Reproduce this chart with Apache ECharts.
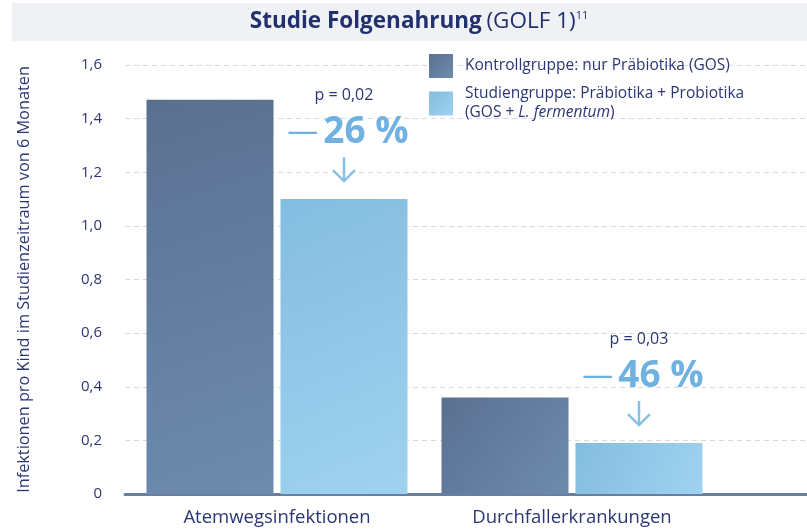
<!DOCTYPE html>
<html><head><meta charset="utf-8">
<script src="https://cdn.jsdelivr.net/npm/echarts@6/dist/echarts.min.js"></script>
<style>html,body{margin:0;padding:0;background:#fff}#c{width:807px;height:529px}</style>
</head><body><div id="c"></div>
<script>
const categories = ['Atemwegsinfektionen', 'Durchfallerkrankungen'];
const seriesNames = ['Kontrollgruppe: nur Präbiotika (GOS)', 'Studiengruppe: Präbiotika + Probiotika (GOS + L. fermentum)'];
const kontrolle = [1.47, 0.36];
const studie = [1.10, 0.19];
const pValues = ['p = 0,02', 'p = 0,03'];
const reductions = ['26 %', '46 %'];
const yTicks = [0, 0.2, 0.4, 0.6, 0.8, 1.0, 1.2, 1.4, 1.6];

const FONT = 'Open Sans';
const NAVY = '#2b3674';
const LIGHTBLUE = '#6fb1e0';

const chart = echarts.init(document.getElementById('c'), null, {renderer: 'canvas'});
const darkGrad = new echarts.graphic.LinearGradient(0, 0, 1, 1, [{offset: 0, color: '#5a7091'}, {offset: 1, color: '#6d8bae'}]);
const lightGrad = new echarts.graphic.LinearGradient(0, 0, 1, 1, [{offset: 0, color: '#84bde0'}, {offset: 1, color: '#9fd2f0'}]);

const option = {
  animation: false,
  textStyle: {fontFamily: FONT},
  title: {
    text: '{b|Studie Folgenahrung} {r|(GOLF 1)}{s|11}',
    left: 414, top: 5, textAlign: 'center',
    textStyle: {
      fontWeight: 'normal',
      rich: {
        b: {fontFamily: FONT, fontSize: 22.5, fontWeight: 'bold', color: '#22306e'},
        r: {fontFamily: FONT, fontSize: 22.5, fontWeight: 'normal', color: '#22306e'},
        s: {fontFamily: FONT, fontSize: 11, fontWeight: 'normal', color: '#22306e', verticalAlign: 'top', padding: [0, 0, 12, 0]}
      }
    }
  },
  legend: {
    orient: 'vertical', left: 424, top: 49, itemWidth: 24, itemHeight: 24, itemGap: 8,
    icon: 'rect',
    data: seriesNames,
    formatter: function (n) {
      if (n === seriesNames[0]) return '{t|Kontrollgruppe: nur Präbiotika (GOS)}';
      return '{t|Studiengruppe: Präbiotika + Probiotika}\n{t|(GOS + }{i|L. fermentum}{t|)}';
    },
    textStyle: {
      padding: [0, 0, 0, 7],
      rich: {
        t: {fontFamily: FONT, fontSize: 15.5, color: NAVY, lineHeight: 19},
        i: {fontFamily: FONT, fontSize: 15.5, color: NAVY, fontStyle: 'italic', lineHeight: 19}
      }
    }
  },
  grid: [
    {left: 125, right: 0, top: 65, bottom: 35},
    {left: 129.5, width: 590, top: 65, bottom: 35}
  ],
  xAxis: [
    {gridIndex: 0, type: 'value', min: 0, max: 1, axisLabel: {show: false}, axisTick: {show: false}, splitLine: {show: false},
     axisLine: {show: true, lineStyle: {color: '#6680a1', width: 3}}},
    {gridIndex: 1, type: 'category', data: categories, axisLine: {show: false}, axisTick: {show: false},
     axisLabel: {fontFamily: FONT, fontSize: 18.5, color: NAVY, margin: 14}}
  ],
  yAxis: [
    {gridIndex: 0, type: 'value', min: 0, max: 1.6, interval: 0.2,
     name: 'Infektionen pro Kind im Studienzeitraum von 6 Monaten', nameLocation: 'middle', nameRotate: 90, nameGap: 93,
     nameTextStyle: {fontFamily: FONT, fontSize: 16.3, color: NAVY},
     axisLine: {show: false}, axisTick: {show: false},
     axisLabel: {fontFamily: FONT, fontSize: 15, color: NAVY, margin: 23,
       formatter: v => v === 0 ? '0' : v.toFixed(1).replace('.', ',')},
     splitLine: {show: true, lineStyle: {color: '#d3dae6', type: [5, 4], width: 1}}},
    {gridIndex: 1, type: 'value', min: 0, max: 1.6, show: false, splitLine: {show: false}}
  ],
  series: [
    {name: seriesNames[0], type: 'bar', xAxisIndex: 1, yAxisIndex: 1, data: kontrolle, barWidth: 127, barGap: '5.5%',
     itemStyle: {color: darkGrad}},
    {name: seriesNames[1], type: 'bar', xAxisIndex: 1, yAxisIndex: 1, data: studie, barWidth: 127, barGap: '5.5%',
     itemStyle: {color: lightGrad}}
  ]
};
chart.setOption(option);

// annotations anchored to the light bars
const g = [];
studie.forEach((v, i) => {
  const p = chart.convertToPixel({xAxisIndex: 1, yAxisIndex: 1}, [i, v]);
  const cx = p[0] + 67; // centre of light bar
  const top = p[1];
  g.push({type: 'text', x: cx, y: top - 104, style: {text: pValues[i], fontFamily: FONT, fontSize: 16, fill: NAVY, align: 'center', verticalAlign: 'middle'}});
  g.push({type: 'text', x: cx + 4, y: top - 67, style: {
    text: '{m|—}{n|' + reductions[i] + '}', align: 'center', verticalAlign: 'middle',
    rich: {m: {fontFamily: FONT, fontSize: 31, fill: LIGHTBLUE, fontWeight: 'normal', padding: [0, 5, 0, 0]},
           n: {fontFamily: FONT, fontSize: 37, fontWeight: 'bold', fill: LIGHTBLUE}}
  }});
  g.push({type: 'line', shape: {x1: cx, y1: top - 42, x2: cx, y2: top - 18}, style: {stroke: '#86c0e5', lineWidth: 2.5}});
  g.push({type: 'polyline', shape: {points: [[cx - 11, top - 29], [cx, top - 18], [cx + 11, top - 29]]}, style: {stroke: '#86c0e5', lineWidth: 2.5, fill: null}});
});
g.unshift({type: 'rect', z: -10, shape: {x: 12, y: 3, width: 795, height: 38}, style: {fill: '#eff1f5'}});
chart.setOption({graphic: g});
</script></body></html>
